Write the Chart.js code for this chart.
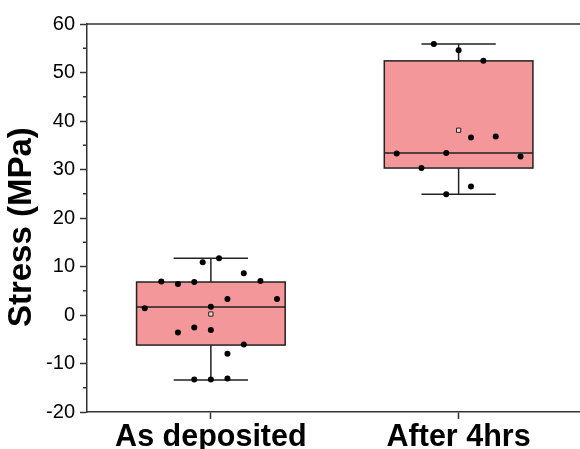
<!DOCTYPE html>
<html lang="en">
<head>
    <meta charset="UTF-8">
    <title>Stress box plot</title>
    <style>
        * {
            padding: 0;
            margin: 0;
            box-sizing: border-box;
        }

        body {
            background: #ffffff;
        }

        .container {
            position: relative;
            width: 580px;
            height: 449px;
        }
    </style>
</head>
<body>
    <div class="container">
        <canvas id="chart"></canvas>
    </div>
    <script src="https://cdn.jsdelivr.net/npm/chart.js@4/dist/chart.umd.min.js"></script>
    <script>
        // categories and box statistics
        const categories = ["As deposited", "After 4hrs"];
        const q1 = [-6.2, 30.3];
        const q3 = [6.8, 52.4];
        const medians = [1.65, 33.4];
        const whiskerLow = [-13.4, 24.9];
        const whiskerHigh = [11.7, 55.9];
        const means = [0.2, 38.1];

        // raw points (jittered x around each category index)
        const depositedX = [-0.2, -0.133, -0.067, -0.033, 0.033, 0.133, 0.2, 0.067, 0.267, -0.267,
            0, -0.133, -0.067, 0, 0.133, 0.067, -0.067, 0, 0.067];
        const depositedY = [6.9, 6.4, 6.8, 10.9, 11.7, 8.6, 7.0, 3.3, 3.3, 1.4,
            1.7, -3.6, -2.6, -3.1, -6.1, -8.0, -13.3, -13.3, -13.1];
        const after4hrsX = [0.9, 1.0, 1.1, 1.05, 1.15, 0.75, 0.95, 1.25, 0.85, 1.05, 0.95];
        const after4hrsY = [55.9, 54.6, 52.4, 36.6, 36.8, 33.3, 33.4, 32.7, 30.3, 26.5, 24.9];

        const yTicks = [-20, -10, 0, 10, 20, 30, 40, 50, 60];

        const FONT = "'Liberation Sans', Arial, sans-serif";
        const AXIS_COLOR = "#333333";
        const BOX_FILL = "#f4979a";

        const pointData = [];
        depositedX.forEach((x, i) => pointData.push({ x: x, y: depositedY[i] }));
        after4hrsX.forEach((x, i) => pointData.push({ x: x, y: after4hrsY[i] }));

        const boxPlugin = {
            id: "boxes",
            beforeDatasetsDraw(chart) {
                const { ctx, scales: { x, y } } = chart;
                ctx.save();
                ctx.lineWidth = 1.5;
                ctx.strokeStyle = "#222222";
                categories.forEach((_, i) => {
                    const left = x.getPixelForValue(i - 0.3);
                    const right = x.getPixelForValue(i + 0.3);
                    const cx = x.getPixelForValue(i);
                    const top = y.getPixelForValue(q3[i]);
                    const bottom = y.getPixelForValue(q1[i]);
                    // box
                    ctx.fillStyle = BOX_FILL;
                    ctx.fillRect(left, top, right - left, bottom - top);
                    ctx.strokeRect(left, top, right - left, bottom - top);
                    // median
                    const my = y.getPixelForValue(medians[i]);
                    ctx.beginPath();
                    ctx.moveTo(left, my);
                    ctx.lineTo(right, my);
                    // whiskers
                    const hi = y.getPixelForValue(whiskerHigh[i]);
                    const lo = y.getPixelForValue(whiskerLow[i]);
                    ctx.moveTo(cx, top);
                    ctx.lineTo(cx, hi);
                    ctx.moveTo(cx, bottom);
                    ctx.lineTo(cx, lo);
                    const capL = x.getPixelForValue(i - 0.15);
                    const capR = x.getPixelForValue(i + 0.15);
                    ctx.moveTo(capL, hi);
                    ctx.lineTo(capR, hi);
                    ctx.moveTo(capL, lo);
                    ctx.lineTo(capR, lo);
                    ctx.stroke();
                });
                ctx.restore();
            },
            afterDraw(chart) {
                const { ctx, chartArea, scales: { y } } = chart;
                ctx.save();
                ctx.strokeStyle = AXIS_COLOR;
                ctx.lineWidth = 1.5;
                ctx.beginPath();
                // top frame line
                ctx.moveTo(chartArea.left, chartArea.top);
                ctx.lineTo(chartArea.right, chartArea.top);
                // minor ticks on y
                for (let v = -15; v < 60; v += 10) {
                    const py = y.getPixelForValue(v);
                    ctx.moveTo(chartArea.left - 4, py);
                    ctx.lineTo(chartArea.left, py);
                }
                ctx.stroke();
                ctx.restore();
            }
        };

        const chart = new Chart(document.getElementById("chart"), {
            type: "scatter",
            plugins: [boxPlugin],
            data: {
                datasets: [
                    {
                        label: "points",
                        data: pointData,
                        pointRadius: 3,
                        pointBackgroundColor: "#000000",
                        pointBorderColor: "#000000",
                        pointBorderWidth: 0,
                    },
                    {
                        label: "mean",
                        data: means.map((m, i) => ({ x: i, y: m })),
                        pointStyle: "rect",
                        pointRadius: 3,
                        pointBackgroundColor: "rgba(255,255,255,0.6)",
                        pointBorderColor: "#222222",
                        pointBorderWidth: 1,
                    },
                ],
            },
            options: {
                responsive: true,
                maintainAspectRatio: false,
                animation: false,
                layout: { autoPadding: false, padding: { top: 24, left: 0, right: 0, bottom: 0 } },
                plugins: {
                    legend: { display: false },
                    tooltip: { enabled: false },
                },
                scales: {
                    x: {
                        type: "linear",
                        min: -0.5,
                        max: 1.49,
                        afterBuildTicks: (scale) => {
                            scale.ticks = categories.map((_, i) => ({ value: i }));
                        },
                        afterFit: (scale) => {
                            scale.height = 37;
                        },
                        grid: {
                            display: true,
                            drawOnChartArea: false,
                            tickLength: 7,
                            tickColor: AXIS_COLOR,
                            tickWidth: 1.5,
                        },
                        border: { color: AXIS_COLOR, width: 1.5 },
                        ticks: {
                            padding: 0,
                            color: "#000000",
                            font: { family: FONT, size: 30.5, weight: "bold" },
                            callback: (v) => categories[v] ?? "",
                        },
                    },
                    y: {
                        min: -20,
                        max: 60,
                        afterBuildTicks: (scale) => {
                            scale.ticks = yTicks.map((v) => ({ value: v }));
                        },
                        afterFit: (scale) => {
                            scale.width = 87;
                        },
                        grid: {
                            display: true,
                            drawOnChartArea: false,
                            tickLength: 7,
                            tickColor: AXIS_COLOR,
                            tickWidth: 1.5,
                        },
                        border: { color: AXIS_COLOR, width: 1.5 },
                        ticks: {
                            padding: 5,
                            color: "#000000",
                            font: { family: FONT, size: 20 },
                        },
                        title: {
                            display: true,
                            text: "Stress (MPa)  ",
                            color: "#000000",
                            padding: { top: 2, bottom: 0 },
                            font: { family: FONT, size: 33, weight: "bold" },
                        },
                    },
                },
            },
        });
    </script>
</body>
</html>
